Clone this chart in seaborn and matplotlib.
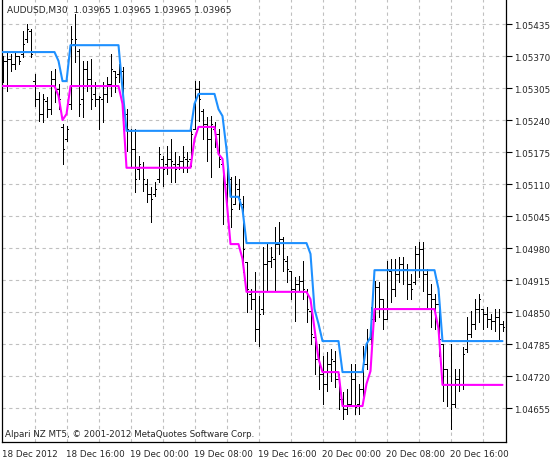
import numpy as np
import pandas as pd
import matplotlib
matplotlib.use("Agg")
import matplotlib.pyplot as plt
import seaborn as sns

# AUDUSD M30 bars, 18-20 Dec 2012
high = [1.05370, 1.05378, 1.05374, 1.05378, 1.05370, 1.05421, 1.05435, 1.05425, 1.05334, 1.05297,
        1.05293, 1.05287, 1.05340, 1.05344, 1.05313, 1.05232, 1.05228, 1.05431, 1.05455, 1.05384,
        1.05360, 1.05360, 1.05364, 1.05317, 1.05289, 1.05317, 1.05327, 1.05374, 1.05340, 1.05354,
        1.05348, 1.05262, 1.05222, 1.05222, 1.05167, 1.05155, 1.05120, 1.05104, 1.05114, 1.05185,
        1.05167, 1.05187, 1.05201, 1.05175, 1.05167, 1.05187, 1.05175, 1.05228, 1.05319, 1.05319,
        1.05262, 1.05246, 1.05248, 1.05236, 1.05222, 1.05151, 1.05161, 1.05124, 1.05126, 1.05120,
        1.05086, 1.04952, 1.04897, 1.04931, 1.04883, 1.04982, 1.04988, 1.04982, 1.05023, 1.05033,
        1.05002, 1.04964, 1.04933, 1.04921, 1.04923, 1.04954, 1.04897, 1.04856, 1.04805, 1.04785,
        1.04761, 1.04769, 1.04775, 1.04771, 1.04724, 1.04688, 1.04694, 1.04744, 1.04744, 1.04704,
        1.04781, 1.04816, 1.04860, 1.04913, 1.04911, 1.04876, 1.04954, 1.04958, 1.04958, 1.04962,
        1.04962, 1.04948, 1.04927, 1.04984, 1.04992, 1.04992, 1.04937, 1.04907, 1.04887, 1.04887,
        1.04785, 1.04734, 1.04785, 1.04734, 1.04734, 1.04779, 1.04840, 1.04852, 1.04876, 1.04887,
        1.04856, 1.04860, 1.04846, 1.04856, 1.04856, 1.04832]
low = [1.05317, 1.05299, 1.05340, 1.05344, 1.05354, 1.05368, 1.05399, 1.05368, 1.05269, 1.05238,
       1.05236, 1.05246, 1.05252, 1.05277, 1.05262, 1.05151, 1.05197, 1.05262, 1.05358, 1.05248,
       1.05246, 1.05299, 1.05262, 1.05269, 1.05222, 1.05236, 1.05277, 1.05289, 1.05297, 1.05317,
       1.05222, 1.05177, 1.05147, 1.05094, 1.05120, 1.05096, 1.05074, 1.05033, 1.05086, 1.05114,
       1.05106, 1.05130, 1.05114, 1.05114, 1.05141, 1.05134, 1.05134, 1.05147, 1.05222, 1.05238,
       1.05201, 1.05157, 1.05124, 1.05185, 1.05145, 1.05029, 1.05069, 1.05023, 1.05069, 1.05059,
       1.04931, 1.04850, 1.04856, 1.04791, 1.04781, 1.04846, 1.04893, 1.04941, 1.04893, 1.04968,
       1.04933, 1.04911, 1.04876, 1.04832, 1.04893, 1.04876, 1.04830, 1.04785, 1.04724, 1.04694,
       1.04663, 1.04690, 1.04710, 1.04698, 1.04653, 1.04633, 1.04643, 1.04659, 1.04643, 1.04643,
       1.04679, 1.04734, 1.04785, 1.04832, 1.04840, 1.04816, 1.04836, 1.04870, 1.04883, 1.04911,
       1.04907, 1.04876, 1.04876, 1.04907, 1.04921, 1.04893, 1.04856, 1.04820, 1.04816, 1.04761,
       1.04669, 1.04659, 1.04612, 1.04657, 1.04690, 1.04694, 1.04769, 1.04799, 1.04816, 1.04830,
       1.04816, 1.04820, 1.04816, 1.04812, 1.04795, 1.04812]
open_ = [1.05344, 1.05360, 1.05364, 1.05354, 1.05370, 1.05374, 1.05405, 1.05421, 1.05319, 1.05283,
         1.05252, 1.05279, 1.05262, 1.05323, 1.05303, 1.05226, 1.05201, 1.05273, 1.05394, 1.05380,
         1.05283, 1.05344, 1.05323, 1.05293, 1.05283, 1.05283, 1.05293, 1.05313, 1.05340, 1.05334,
         1.05340, 1.05252, 1.05218, 1.05181, 1.05141, 1.05145, 1.05110, 1.05090, 1.05090, 1.05120,
         1.05161, 1.05151, 1.05161, 1.05151, 1.05151, 1.05157, 1.05161, 1.05161, 1.05222, 1.05303,
         1.05258, 1.05232, 1.05201, 1.05222, 1.05212, 1.05151, 1.05110, 1.05120, 1.05069, 1.05100,
         1.05069, 1.04952, 1.04887, 1.04876, 1.04816, 1.04856, 1.04948, 1.04954, 1.04958, 1.04988,
         1.04998, 1.04954, 1.04933, 1.04897, 1.04907, 1.04913, 1.04893, 1.04852, 1.04799, 1.04755,
         1.04724, 1.04704, 1.04744, 1.04750, 1.04714, 1.04673, 1.04653, 1.04663, 1.04714, 1.04663,
         1.04694, 1.04744, 1.04795, 1.04836, 1.04901, 1.04876, 1.04836, 1.04933, 1.04897, 1.04927,
         1.04948, 1.04937, 1.04907, 1.04911, 1.04968, 1.04978, 1.04927, 1.04887, 1.04876, 1.04866,
         1.04785, 1.04734, 1.04704, 1.04663, 1.04714, 1.04704, 1.04775, 1.04805, 1.04826, 1.04856,
         1.04856, 1.04846, 1.04836, 1.04832, 1.04840, 1.04826]
close = [1.05360, 1.05364, 1.05354, 1.05370, 1.05360, 1.05394, 1.05425, 1.05374, 1.05283, 1.05252,
         1.05283, 1.05262, 1.05323, 1.05303, 1.05283, 1.05181, 1.05222, 1.05405, 1.05405, 1.05273,
         1.05344, 1.05323, 1.05283, 1.05283, 1.05287, 1.05293, 1.05313, 1.05344, 1.05327, 1.05344,
         1.05262, 1.05222, 1.05181, 1.05120, 1.05151, 1.05120, 1.05090, 1.05080, 1.05100, 1.05171,
         1.05141, 1.05161, 1.05157, 1.05141, 1.05157, 1.05165, 1.05157, 1.05212, 1.05303, 1.05283,
         1.05232, 1.05201, 1.05232, 1.05212, 1.05161, 1.05110, 1.05130, 1.05059, 1.05110, 1.05080,
         1.04978, 1.04897, 1.04876, 1.04816, 1.04846, 1.04948, 1.04954, 1.04962, 1.04988, 1.04998,
         1.04958, 1.04937, 1.04897, 1.04907, 1.04913, 1.04897, 1.04856, 1.04805, 1.04755, 1.04724,
         1.04704, 1.04744, 1.04755, 1.04714, 1.04673, 1.04653, 1.04663, 1.04714, 1.04657, 1.04694,
         1.04744, 1.04795, 1.04836, 1.04901, 1.04876, 1.04836, 1.04937, 1.04897, 1.04927, 1.04948,
         1.04937, 1.04907, 1.04897, 1.04968, 1.04978, 1.04927, 1.04887, 1.04876, 1.04866, 1.04795,
         1.04734, 1.04704, 1.04663, 1.04714, 1.04704, 1.04765, 1.04805, 1.04826, 1.04856, 1.04876,
         1.04846, 1.04836, 1.04832, 1.04840, 1.04826, 1.04820]

# indicator lines: upper (blue) and lower (magenta) steps
upper = [1.05378, 1.05378, 1.05378, 1.05378, 1.05378, 1.05378, 1.05378, 1.05378, 1.05378, 1.05378,
         1.05378, 1.05378, 1.05378, 1.05378, 1.05360, 1.05319, 1.05319, 1.05392, 1.05392, 1.05392,
         1.05392, 1.05392, 1.05392, 1.05392, 1.05392, 1.05392, 1.05392, 1.05392, 1.05392, 1.05392,
         1.05303, 1.05218, 1.05218, 1.05218, 1.05218, 1.05218, 1.05218, 1.05218, 1.05218, 1.05218,
         1.05218, 1.05218, 1.05218, 1.05218, 1.05218, 1.05218, 1.05218, 1.05218, 1.05273, 1.05293,
         1.05293, 1.05293, 1.05293, 1.05293, 1.05262, 1.05248, 1.05181, 1.05084, 1.05084, 1.05084,
         1.05059, 1.04990, 1.04990, 1.04990, 1.04990, 1.04990, 1.04990, 1.04990, 1.04990, 1.04990,
         1.04990, 1.04990, 1.04990, 1.04990, 1.04990, 1.04990, 1.04990, 1.04968, 1.04856, 1.04826,
         1.04791, 1.04791, 1.04791, 1.04791, 1.04791, 1.04728, 1.04728, 1.04728, 1.04728, 1.04728,
         1.04728, 1.04785, 1.04799, 1.04935, 1.04935, 1.04935, 1.04935, 1.04935, 1.04935, 1.04935,
         1.04935, 1.04935, 1.04935, 1.04935, 1.04935, 1.04935, 1.04935, 1.04935, 1.04935, 1.04897,
         1.04791, 1.04791, 1.04791, 1.04791, 1.04791, 1.04791, 1.04791, 1.04791, 1.04791, 1.04791,
         1.04791, 1.04791, 1.04791, 1.04791, 1.04791, 1.04791]
lower = [1.05309, 1.05309, 1.05309, 1.05309, 1.05309, 1.05309, 1.05309, 1.05309, 1.05309, 1.05309,
         1.05309, 1.05309, 1.05309, 1.05309, 1.05289, 1.05240, 1.05252, 1.05309, 1.05309, 1.05309,
         1.05309, 1.05309, 1.05309, 1.05309, 1.05309, 1.05309, 1.05309, 1.05309, 1.05309, 1.05309,
         1.05273, 1.05143, 1.05143, 1.05143, 1.05143, 1.05143, 1.05143, 1.05143, 1.05143, 1.05143,
         1.05143, 1.05143, 1.05143, 1.05143, 1.05143, 1.05143, 1.05143, 1.05143, 1.05201, 1.05226,
         1.05226, 1.05226, 1.05226, 1.05226, 1.05171, 1.05161, 1.05080, 1.04988, 1.04988, 1.04988,
         1.04958, 1.04891, 1.04891, 1.04891, 1.04891, 1.04891, 1.04891, 1.04891, 1.04891, 1.04891,
         1.04891, 1.04891, 1.04891, 1.04891, 1.04891, 1.04891, 1.04891, 1.04876, 1.04816, 1.04755,
         1.04728, 1.04728, 1.04728, 1.04728, 1.04728, 1.04659, 1.04659, 1.04659, 1.04659, 1.04659,
         1.04659, 1.04704, 1.04730, 1.04856, 1.04856, 1.04856, 1.04856, 1.04856, 1.04856, 1.04856,
         1.04856, 1.04856, 1.04856, 1.04856, 1.04856, 1.04856, 1.04856, 1.04856, 1.04856, 1.04816,
         1.04702, 1.04702, 1.04702, 1.04702, 1.04702, 1.04702, 1.04702, 1.04702, 1.04702, 1.04702,
         1.04702, 1.04702, 1.04702, 1.04702, 1.04702, 1.04702]

time_ticks = [0, 16, 32, 48, 64, 80, 96, 112]
time_labels = ["18 Dec 2012", "18 Dec 16:00", "19 Dec 00:00", "19 Dec 08:00",
               "19 Dec 16:00", "20 Dec 00:00", "20 Dec 08:00", "20 Dec 16:00"]
price_ticks = [1.04655, 1.04720, 1.04785, 1.04850, 1.04915, 1.04980, 1.05045,
               1.05110, 1.05175, 1.05240, 1.05305, 1.05370, 1.05435]

df = pd.DataFrame({"bar": np.arange(len(high)), "high": high, "low": low,
                   "open": open_, "close": close, "upper": upper, "lower": lower})

sns.set_style("white")
plt.rcParams['font.family'] = ['DejaVu Sans']

W, H = 559, 460
fig = plt.figure(figsize=(W / 100, H / 100), dpi=100)
ax = fig.add_axes([2 / W, 17 / H, 504 / W, 443 / H])

# dashed grid, every price tick and every 4 hours
grid_kw = dict(color="#c0c0c0", lw=0.8, ls=(0, (3, 3)), zorder=0)
for p in price_ticks:
    ax.axhline(p, **grid_kw)
for b in range(8, 126, 8):
    ax.axvline(b, **grid_kw)

# OHLC bars, 1 px and crisp like the terminal
bar_kw = dict(color="black", lw=0.72, zorder=2, antialiased=False)
ax.vlines(df["bar"], df["low"], df["high"], **bar_kw)
ax.hlines(df["open"], df["bar"] - 0.4, df["bar"], **bar_kw)
ax.hlines(df["close"], df["bar"], df["bar"] + 0.4, **bar_kw)

sns.lineplot(data=df, x="bar", y="upper", color="#1e90ff", lw=1.5, ax=ax, zorder=3)
sns.lineplot(data=df, x="bar", y="lower", color="#ff00ff", lw=1.5, ax=ax, zorder=3)

ax.set_xlim(-0.125, 125.875)
ax.set_ylim(1.04586, 1.054858)
ax.set_xlabel("")
ax.set_ylabel("")

ax.set_xticks(time_ticks)
ax.set_xticklabels(time_labels, ha="left", fontsize=6.3)
ax.set_yticks(price_ticks)
ax.set_yticklabels([f"{p:.5f}" for p in price_ticks], fontsize=6.3)
ax.yaxis.tick_right()
ax.tick_params(axis="x", direction="out", length=3, width=0.8, pad=2, color="black")
ax.tick_params(axis="y", direction="out", length=4, width=0.8, pad=2, color="black")

for side in ["left", "right", "bottom"]:
    ax.spines[side].set_color("black")
    ax.spines[side].set_linewidth(0.9)
ax.spines["top"].set_visible(False)

fig.text(7 / W, 1 - 10 / H, "AUDUSD,M30  1.03965 1.03965 1.03965 1.03965",
         fontsize=6.5, va="center", ha="left")
fig.text(5 / W, 1 - 435 / H, "Alpari NZ MT5, \u00a9 2001-2012 MetaQuotes Software Corp.",
         fontsize=6.3, va="center", ha="left")

fig.savefig("out.png", dpi=100, facecolor="white")
